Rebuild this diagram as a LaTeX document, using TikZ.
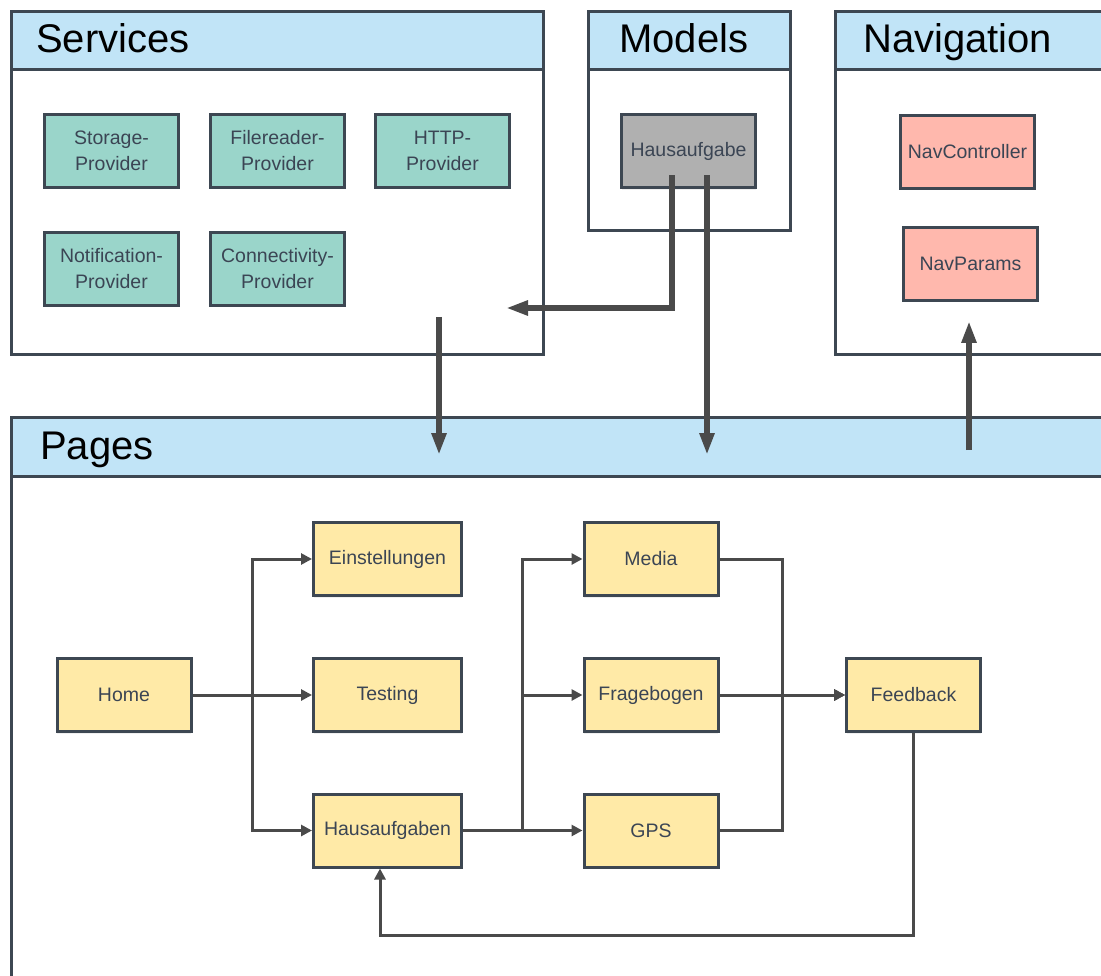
\documentclass[tikz,border=0pt]{standalone}
\usepackage{fontspec}
\setmainfont{Liberation Sans}
\usetikzlibrary{arrows.meta,shadows,calc}

\definecolor{framecol}{HTML}{3D4752}
\definecolor{hdrfill}{HTML}{C1E4F7}
\definecolor{svcfill}{HTML}{9AD5CA}
\definecolor{mdlfill}{HTML}{B0B0B0}
\definecolor{navfill}{HTML}{FFB8AD}
\definecolor{pgfill}{HTML}{FFEAA7}
\definecolor{txtcol}{HTML}{3B4554}
\definecolor{wirecol}{HTML}{4A4A4A}

\tikzset{
  panel/.style={draw=framecol, line width=3pt, fill=white, anchor=north west,
    inner sep=0pt, drop shadow={shadow xshift=0pt, shadow yshift=-2pt, opacity=.12}},
  header/.style={draw=framecol, line width=3pt, fill=hdrfill, anchor=north west,
    inner sep=0pt, minimum height=58.5pt},
  title/.style={anchor=base west, inner sep=0pt, text=black,
    font=\fontsize{40}{46}\selectfont},
  box/.style={draw=framecol, line width=3pt, minimum width=134pt, minimum height=73pt,
    inner sep=2pt, align=center, text=txtcol, font=\fontsize{19.5}{26}\selectfont,
    drop shadow={shadow xshift=0pt, shadow yshift=-2pt, opacity=.12}},
  svcbox/.style={box, fill=svcfill},
  mdlbox/.style={box, fill=mdlfill},
  navbox/.style={box, fill=navfill},
  pgbox/.style={box, fill=pgfill},
  widebox/.style={pgbox, minimum width=148pt},
  conn/.style={draw=wirecol, line width=3pt, -{Triangle[length=11pt,width=11pt]}},
  bigarrow/.style={draw=wirecol, line width=6pt, -{Triangle[length=22pt,width=14pt]}},
}

\begin{document}
\begin{tikzpicture}[x=1pt, y=-1pt]
\useasboundingbox (0,0) rectangle (1101,976);
\clip (0,0) rectangle (1101,976);

% containers with their header bars
\node[panel, minimum width=532pt, minimum height=343pt] (services) at (10,10) {};
\node[header, minimum width=532pt] (serviceshdr) at (services.north west) {};
\node[title] (servicestitle) at (36,52.5) {Services};

\node[panel, minimum width=202pt, minimum height=219pt] (models) at (587,10) {};
\node[header, minimum width=202pt] (modelshdr) at (models.north west) {};
\node[title] (modelstitle) at (619,52.5) {Models};

\node[panel, minimum width=290pt, minimum height=343pt] (navigation) at (834,10) {};
\node[header, minimum width=290pt] (navigationhdr) at (navigation.north west) {};
\node[title] (navigationtitle) at (863,52.5) {Navigation};

\node[panel, minimum width=1110pt, minimum height=600pt] (pages) at (10,416) {};
\node[header, minimum width=1110pt] (pageshdr) at (pages.north west) {};
\node[title] (pagestitle) at (40,459) {Pages};

% services
\node[svcbox] (storage)      at (111.5,151) {Storage-\\Provider};
\node[svcbox] (filereader)   at (277.5,151) {Filereader-\\Provider};
\node[svcbox] (http)         at (442.5,151) {HTTP-\\Provider};
\node[svcbox] (notification) at (111.5,269) {Notification-\\Provider};
\node[svcbox] (connectivity) at (277.5,269) {Connectivity-\\Provider};

% models
\node[mdlbox] (hm) at (688.5,151.5) {Hausaufgabe};

% navigation
\node[navbox] (navctrl)   at (967.5,152) {NavController};
\node[navbox] (navparams) at (970.5,264) {NavParams};

% pages
\node[pgbox]   (home)         at (124,695)   {Home};
\node[widebox] (einst)        at (387.5,559) {Einstellungen};
\node[widebox] (testing)      at (387.5,695) {Testing};
\node[widebox] (hausaufgaben) at (387.5,830.5) {Hausaufgaben};
\node[pgbox]   (media)        at (651,559)   {Media};
\node[pgbox]   (frage)        at (651,695)   {Fragebogen};
\node[pgbox]   (gps)          at (651,830.5) {GPS};
\node[pgbox]   (feedback)     at (913.5,695) {Feedback};

% page flow
\coordinate (split1) at ($(home.east)!.5!(testing.west)$);
\coordinate (split2) at ($(hausaufgaben.east)!.5!(gps.west)$);
\coordinate (merge)  at ($(frage.east)!.5!(feedback.west)$);

\draw[conn] (home.east) -- (split1) |- (einst.west);
\draw[conn] (home.east) -- (testing.west);
\draw[conn] (home.east) -- (split1) |- (hausaufgaben.west);
\draw[line width=1.5pt, wirecol] (home.east) -- (split1);

\draw[conn] (hausaufgaben.east) -- (split2) |- (media.west);
\draw[conn] (hausaufgaben.east) -- (split2) |- (frage.west);
\draw[conn] (hausaufgaben.east) -- (gps.west);

\draw[conn] (media.east) -| (merge) -- (feedback.west);
\draw[conn] (gps.east) -| (merge) -- (feedback.west);
\draw[conn] (frage.east) -- (feedback.west);
\draw[line width=1.5pt, wirecol] (merge) -- ([xshift=-10pt]feedback.west);

\draw[conn] (feedback.south) -- ++(0,202) -| ([xshift=-7.5pt]hausaufgaben.south);

% dependencies between the layers
\coordinate (svcin)  at (506,308);
\coordinate (svcout) at (439,317);
\coordinate (pgin1)  at (439,455);
\coordinate (pgin2)  at (707,455);
\coordinate (navout) at (969,450);
\coordinate (navin)  at (969,321);

\draw[bigarrow] ([xshift=-16.5pt,yshift=14pt]hm.south) |- (svcin);
\draw[bigarrow] ([xshift=18.5pt,yshift=14pt]hm.south) -- (pgin2);
\draw[bigarrow] (svcout) -- (pgin1);
\draw[bigarrow] (navout) -- (navin);
\end{tikzpicture}
\end{document}
